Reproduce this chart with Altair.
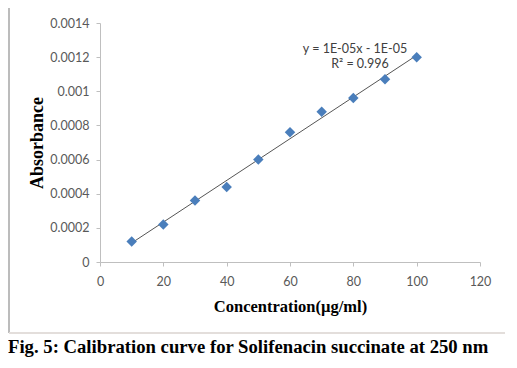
import altair as alt
import pandas as pd

conc = [10, 20, 30, 40, 50, 60, 70, 80, 90, 100]
absorb = [0.00012, 0.00022, 0.00036, 0.00044, 0.00060, 0.00076, 0.00088, 0.00096, 0.00107, 0.00120]
x_ticks = [0, 20, 40, 60, 80, 100, 120]
y_ticks = [0, 0.0002, 0.0004, 0.0006, 0.0008, 0.001, 0.0012, 0.0014]
eq_lines = ["y = 1E-05x - 1E-05", "R² = 0.996"]
caption = "Fig. 5: Calibration curve for Solifenacin succinate at 250 nm"

df = pd.DataFrame({"conc": conc, "abs": absorb})

W, H = 380, 239

xscale = alt.Scale(domain=[0, 120], nice=False, zero=True)
yscale = alt.Scale(domain=[0, 0.0014], nice=False, zero=True)

xaxis = alt.Axis(values=x_ticks, grid=False, domainColor="#BFBFBF", tickColor="#BFBFBF",
                 tickSize=4, labelPadding=9, labelFont="Lato", labelFontSize=12.5,
                 labelColor="#595959", labelOverlap=False, labelFlush=False,
                 title="Concentration(µg/ml)", titleFont="Liberation Serif",
                 titleFontSize=16.5, titleFontWeight="bold", titleColor="#000000", titlePadding=11)
yaxis = alt.Axis(values=y_ticks, grid=False, domainColor="#BFBFBF", tickColor="#BFBFBF",
                 tickSize=4, labelPadding=7, labelFont="Lato", labelFontSize=12.5,
                 labelColor="#595959", labelOverlap=False, labelFlush=False,
                 title="Absorbance", titleFont="Liberation Serif",
                 titleFontSize=18, titleFontWeight="bold", titleColor="#000000", titlePadding=3,
                 labelExpr="format(datum.value, '.4~f')")

base = alt.Chart(df)

points = base.mark_point(shape="diamond", filled=True, size=110, color="#4A7EBB", opacity=1).encode(
    x=alt.X("conc:Q", scale=xscale, axis=xaxis),
    y=alt.Y("abs:Q", scale=yscale, axis=yaxis),
)

trend = base.transform_regression("conc", "abs", extent=[10, 100]).mark_line(
    color="#555555", strokeWidth=1
).encode(
    x=alt.X("conc:Q", scale=xscale, axis=xaxis),
    y=alt.Y("abs:Q", scale=yscale, axis=yaxis),
)

eq1 = alt.Chart(pd.DataFrame({"t": [eq_lines[0]]})).mark_text(
    font="Lato", fontSize=12.5, color="#404040", align="center", baseline="middle"
).encode(x=alt.value(255), y=alt.value(26), text="t:N")
eq2 = alt.Chart(pd.DataFrame({"t": [eq_lines[1]]})).mark_text(
    font="Lato", fontSize=12.5, color="#404040", align="center", baseline="middle"
).encode(x=alt.value(260), y=alt.value(41), text="t:N")

frame_top = alt.Chart(pd.DataFrame({"a": [0]})).mark_rule(color="#8C8C8C", strokeWidth=3).encode(
    x=alt.value(-92), x2=alt.value(405), y=alt.value(-17))
frame_left = alt.Chart(pd.DataFrame({"a": [0]})).mark_rule(color="#A6A6A6", strokeWidth=1.5).encode(
    x=alt.value(-91), y=alt.value(-17), y2=alt.value(310))
frame_bottom = alt.Chart(pd.DataFrame({"a": [0]})).mark_rule(color="#E3DEDB", strokeWidth=2).encode(
    x=alt.value(-91), x2=alt.value(405), y=alt.value(310))

cap = alt.Chart(pd.DataFrame({"t": [caption]})).mark_text(
    font="Liberation Serif", fontSize=18.7, fontWeight="bold", color="#000000",
    align="left", baseline="alphabetic"
).encode(x=alt.value(-92), y=alt.value(330), text="t:N")

chart = alt.layer(frame_top, frame_left, frame_bottom, trend, points, eq1, eq2, cap).properties(
    width=W, height=H,
    autosize=alt.AutoSizeParams(type="none"),
    padding={"left": 92, "top": 15, "right": 25, "bottom": 95},
    background="white",
).configure_view(stroke=None).configure_axis(labelOverlap=False, labelFlush=False)

chart.save("out.html", embed_options={"renderer": "svg", "actions": False})
